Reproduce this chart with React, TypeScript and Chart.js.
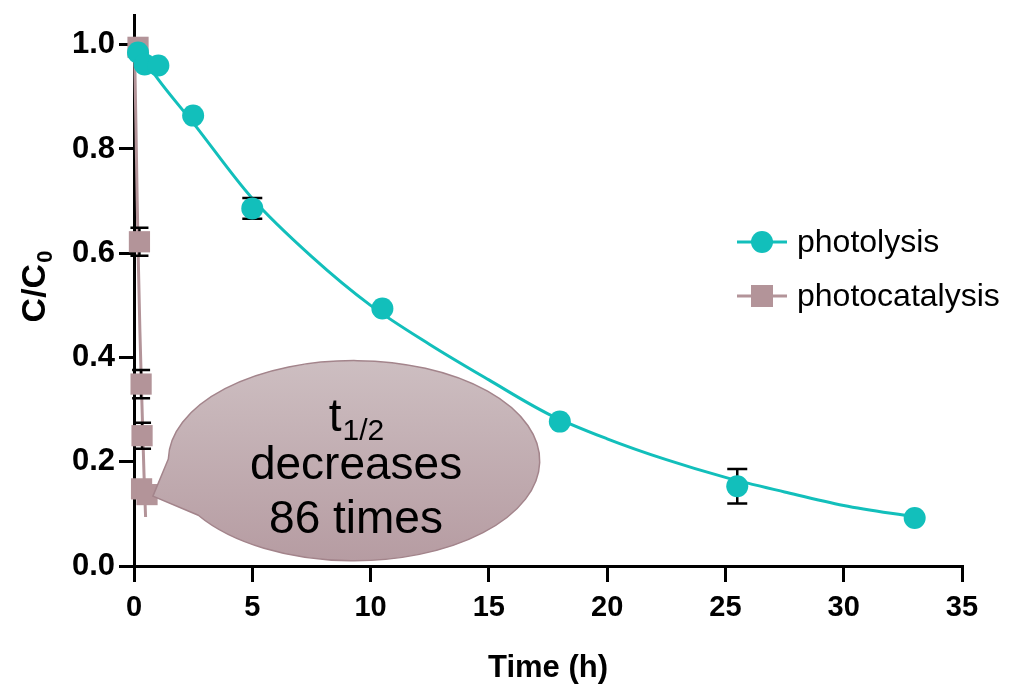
import React, { useEffect, useRef } from "react";
import { Chart, registerables } from "chart.js";
Chart.register(...registerables);

// ---- data ----
const photolysisTime = [0.17, 0.45, 1.03, 2.5, 5, 10.5, 18, 25.5, 33];
const photolysisValue = [0.985, 0.962, 0.96, 0.864, 0.686, 0.494, 0.277, 0.153, 0.092];
const photolysisError = [0, 0, 0, 0, 0.02, 0, 0, 0.033, 0];
const photolysisFitTime = [0.17, 1, 2.5, 5, 7.5, 10, 12.5, 15, 17.5, 20, 22.5, 25, 27.5, 30, 33];
const photolysisFitValue = [0.99, 0.935, 0.85, 0.705, 0.594, 0.5, 0.425, 0.357, 0.292, 0.244, 0.204, 0.17, 0.142, 0.116, 0.094];

const photocatTime = [0.17, 0.23, 0.3, 0.34, 0.32, 0.55];
const photocatValue = [0.995, 0.622, 0.349, 0.25, 0.148, 0.137];
const photocatError = [0, 0.027, 0.027, 0.025, 0, 0];
const photocatFitTime = [0.02, 0.08, 0.135, 0.19, 0.25, 0.33, 0.42, 0.49];
const photocatFitValue = [1.0, 0.85, 0.7, 0.57, 0.45, 0.32, 0.18, 0.094];

const xTicks = [0, 5, 10, 15, 20, 25, 30, 35];
const yTicks = [0, 0.2, 0.4, 0.6, 0.8, 1.0];
const seriesNames = ["photolysis", "photocatalysis"];
const calloutLines = ["decreases", "86 times"];

const TEAL = "#12bfbb";
const MAUVE = "#b39499";
const FONT = "'Liberation Sans', Arial, sans-serif";

const pts = (xs: number[], ys: number[]) => xs.map((x, i) => ({ x, y: ys[i] }));

export default function App() {
  const ref = useRef<HTMLCanvasElement>(null);
  useEffect(() => {
    document.body.style.margin = "0";
    const canvas = ref.current!;
    const errorMap: Record<number, { xs: number[]; ys: number[]; es: number[]; cap: number }> = {
      1: { xs: photolysisTime, ys: photolysisValue, es: photolysisError, cap: 10 },
      3: { xs: photocatTime, ys: photocatValue, es: photocatError, cap: 9 },
    };

    const errPlugin = {
      id: "errbars",
      beforeDatasetDraw(chart: any, args: any) {
        const e = errorMap[args.index];
        if (!e) return;
        const { ctx, scales } = chart;
        ctx.save();
        ctx.strokeStyle = "#000";
        ctx.lineWidth = 2.5;
        e.xs.forEach((x, i) => {
          const err = e.es[i];
          if (!err) return;
          const px = scales.x.getPixelForValue(x);
          const top = scales.y.getPixelForValue(e.ys[i] + err);
          const bot = scales.y.getPixelForValue(e.ys[i] - err);
          ctx.beginPath();
          ctx.moveTo(px, top);
          ctx.lineTo(px, bot);
          ctx.moveTo(px - e.cap, top);
          ctx.lineTo(px + e.cap, top);
          ctx.moveTo(px - e.cap, bot);
          ctx.lineTo(px + e.cap, bot);
          ctx.stroke();
        });
        ctx.restore();
      },
    };

    const decorPlugin = {
      id: "decor",
      afterDraw(chart: any) {
        const { ctx, scales } = chart;
        const sx = scales.x, sy = scales.y;
        // ---- callout bubble ----
        const cx = sx.getPixelForValue(9.3);
        const cy = sy.getPixelForValue(0.202);
        const rx = sx.getPixelForValue(9.3 + 7.85) - cx;
        const ry = cy - sy.getPixelForValue(0.202 + 0.192);
        const tipX = sx.getPixelForValue(0.8);
        const tipY = sy.getPixelForValue(0.134);
        const aA = (181 * Math.PI) / 180;
        const aB = (147 * Math.PI) / 180;
        ctx.save();
        const g = ctx.createLinearGradient(0, cy - ry, 0, cy + ry);
        g.addColorStop(0, "#cdbec1");
        g.addColorStop(1, "#b69ca2");
        ctx.beginPath();
        ctx.moveTo(tipX, tipY);
        ctx.lineTo(cx + rx * Math.cos(aA), cy + ry * Math.sin(aA));
        ctx.ellipse(cx, cy, rx, ry, 0, aA, aB + Math.PI * 2, false);
        ctx.closePath();
        ctx.fillStyle = g;
        ctx.fill();
        ctx.strokeStyle = "#a3848b";
        ctx.lineWidth = 1.5;
        ctx.stroke();

        ctx.fillStyle = "#000";
        ctx.textBaseline = "alphabetic";
        ctx.textAlign = "left";
        ctx.font = `46px ${FONT}`;
        const tW = ctx.measureText("t").width;
        ctx.font = `30px ${FONT}`;
        const sW = ctx.measureText("1/2").width;
        const startX = cx + 2 - (tW + sW) / 2;
        ctx.font = `46px ${FONT}`;
        ctx.fillText("t", startX, cy - 30);
        ctx.font = `30px ${FONT}`;
        ctx.fillText("1/2", startX + tW + 1, cy - 21);
        ctx.font = `46px ${FONT}`;
        ctx.textAlign = "center";
        ctx.fillText(calloutLines[0], cx + 2, cy + 18);
        ctx.fillText(calloutLines[1], cx + 2, cy + 72);
        ctx.restore();

        // ---- legend ----
        ctx.save();
        const legendY = [242, 296];
        seriesNames.forEach((name, i) => {
          const y = legendY[i];
          const col = i === 0 ? TEAL : MAUVE;
          ctx.strokeStyle = col;
          ctx.lineWidth = 3;
          ctx.beginPath();
          ctx.moveTo(737, y);
          ctx.lineTo(787, y);
          ctx.stroke();
          ctx.fillStyle = col;
          if (i === 0) {
            ctx.beginPath();
            ctx.arc(762, y, 11, 0, Math.PI * 2);
            ctx.fill();
          } else {
            ctx.fillRect(751, y - 11, 22, 22);
          }
          ctx.fillStyle = "#000";
          ctx.font = `32px ${FONT}`;
          ctx.textAlign = "left";
          ctx.textBaseline = "middle";
          ctx.fillText(name, 797, y + 1);
        });
        ctx.restore();

        // ---- y title C/C0 ----
        ctx.save();
        ctx.translate(45, 287);
        ctx.rotate(-Math.PI / 2);
        ctx.fillStyle = "#000";
        ctx.textBaseline = "alphabetic";
        ctx.font = `bold 34px ${FONT}`;
        const mW = ctx.measureText("C/C").width;
        ctx.font = `bold 22px ${FONT}`;
        const zW = ctx.measureText("0").width;
        const x0 = -(mW + zW) / 2;
        ctx.font = `bold 34px ${FONT}`;
        ctx.fillText("C/C", x0, 0);
        ctx.font = `bold 22px ${FONT}`;
        ctx.fillText("0", x0 + mW + 1, 7);
        ctx.restore();
      },
    };

    const chart = new Chart(canvas, {
      type: "scatter",
      data: {
        datasets: [
          {
            label: "photolysis fit",
            data: pts(photolysisFitTime, photolysisFitValue),
            showLine: true,
            borderColor: TEAL,
            borderWidth: 3,
            pointRadius: 0,
            cubicInterpolationMode: "monotone",
            clip: false,
            order: 3,
          } as any,
          {
            label: "photolysis",
            data: pts(photolysisTime, photolysisValue),
            showLine: false,
            backgroundColor: TEAL,
            borderColor: TEAL,
            pointRadius: 11,
            pointBorderWidth: 0,
            pointStyle: "circle",
            clip: false,
            order: 1,
          } as any,
          {
            label: "photocatalysis fit",
            data: pts(photocatFitTime, photocatFitValue),
            showLine: true,
            borderColor: MAUVE,
            borderWidth: 3,
            pointRadius: 0,
            cubicInterpolationMode: "monotone",
            clip: false,
            order: 5,
          } as any,
          {
            label: "photocatalysis",
            data: pts(photocatTime, photocatValue),
            showLine: false,
            backgroundColor: MAUVE,
            borderColor: MAUVE,
            pointRadius: 15,
            pointBorderWidth: 0,
            pointStyle: "rect",
            clip: false,
            order: 4,
          } as any,
        ],
      },
      options: {
        responsive: false,
        animation: false,
        events: [],
        layout: { padding: { left: 0, right: 50, top: 10, bottom: 0 } },
        plugins: { legend: { display: false }, tooltip: { enabled: false } },
        scales: {
          x: {
            type: "linear",
            min: 0,
            max: 35,
            afterBuildTicks: (s: any) => {
              s.ticks = xTicks.map((v) => ({ value: v }));
            },
            afterFit: (s: any) => {
              s.height = 124;
              s.paddingLeft = 0;
              s.paddingRight = 0;
            },
            grid: {
              display: true,
              drawOnChartArea: false,
              drawTicks: true,
              tickLength: 16,
              tickWidth: 3,
              color: "#000",
              lineWidth: 3,
            },
            border: { display: true, color: "#000", width: 3 },
            ticks: {
              color: "#000",
              padding: 9,
              font: { family: FONT, size: 29, weight: "bold" },
              callback: (v: any) => String(v),
            },
            title: {
              display: true,
              text: "Time (h)",
              color: "#000",
              font: { family: FONT, size: 31, weight: "bold" },
              padding: { top: 0, bottom: 3 },
            },
          },
          y: {
            type: "linear",
            min: 0,
            max: 1.057,
            afterBuildTicks: (s: any) => {
              s.ticks = yTicks.map((v) => ({ value: v }));
            },
            afterFit: (s: any) => {
              s.width = 134;
              s.paddingTop = 0;
              s.paddingBottom = 0;
            },
            grid: {
              display: true,
              drawOnChartArea: false,
              drawTicks: true,
              tickLength: 15,
              tickWidth: 3,
              color: "#000",
              lineWidth: 3,
            },
            border: { display: true, color: "#000", width: 3 },
            ticks: {
              color: "#000",
              padding: 4,
              font: { family: FONT, size: 31, weight: "bold" },
              callback: (v: any) => Number(v).toFixed(1),
            },
          },
        },
      },
      plugins: [errPlugin, decorPlugin],
    } as any);
    return () => chart.destroy();
  }, []);

  return (
    <div style={{ width: 1012, height: 690 }}>
      <canvas ref={ref} width={1012} height={690} style={{ display: "block" }} />
    </div>
  );
}
